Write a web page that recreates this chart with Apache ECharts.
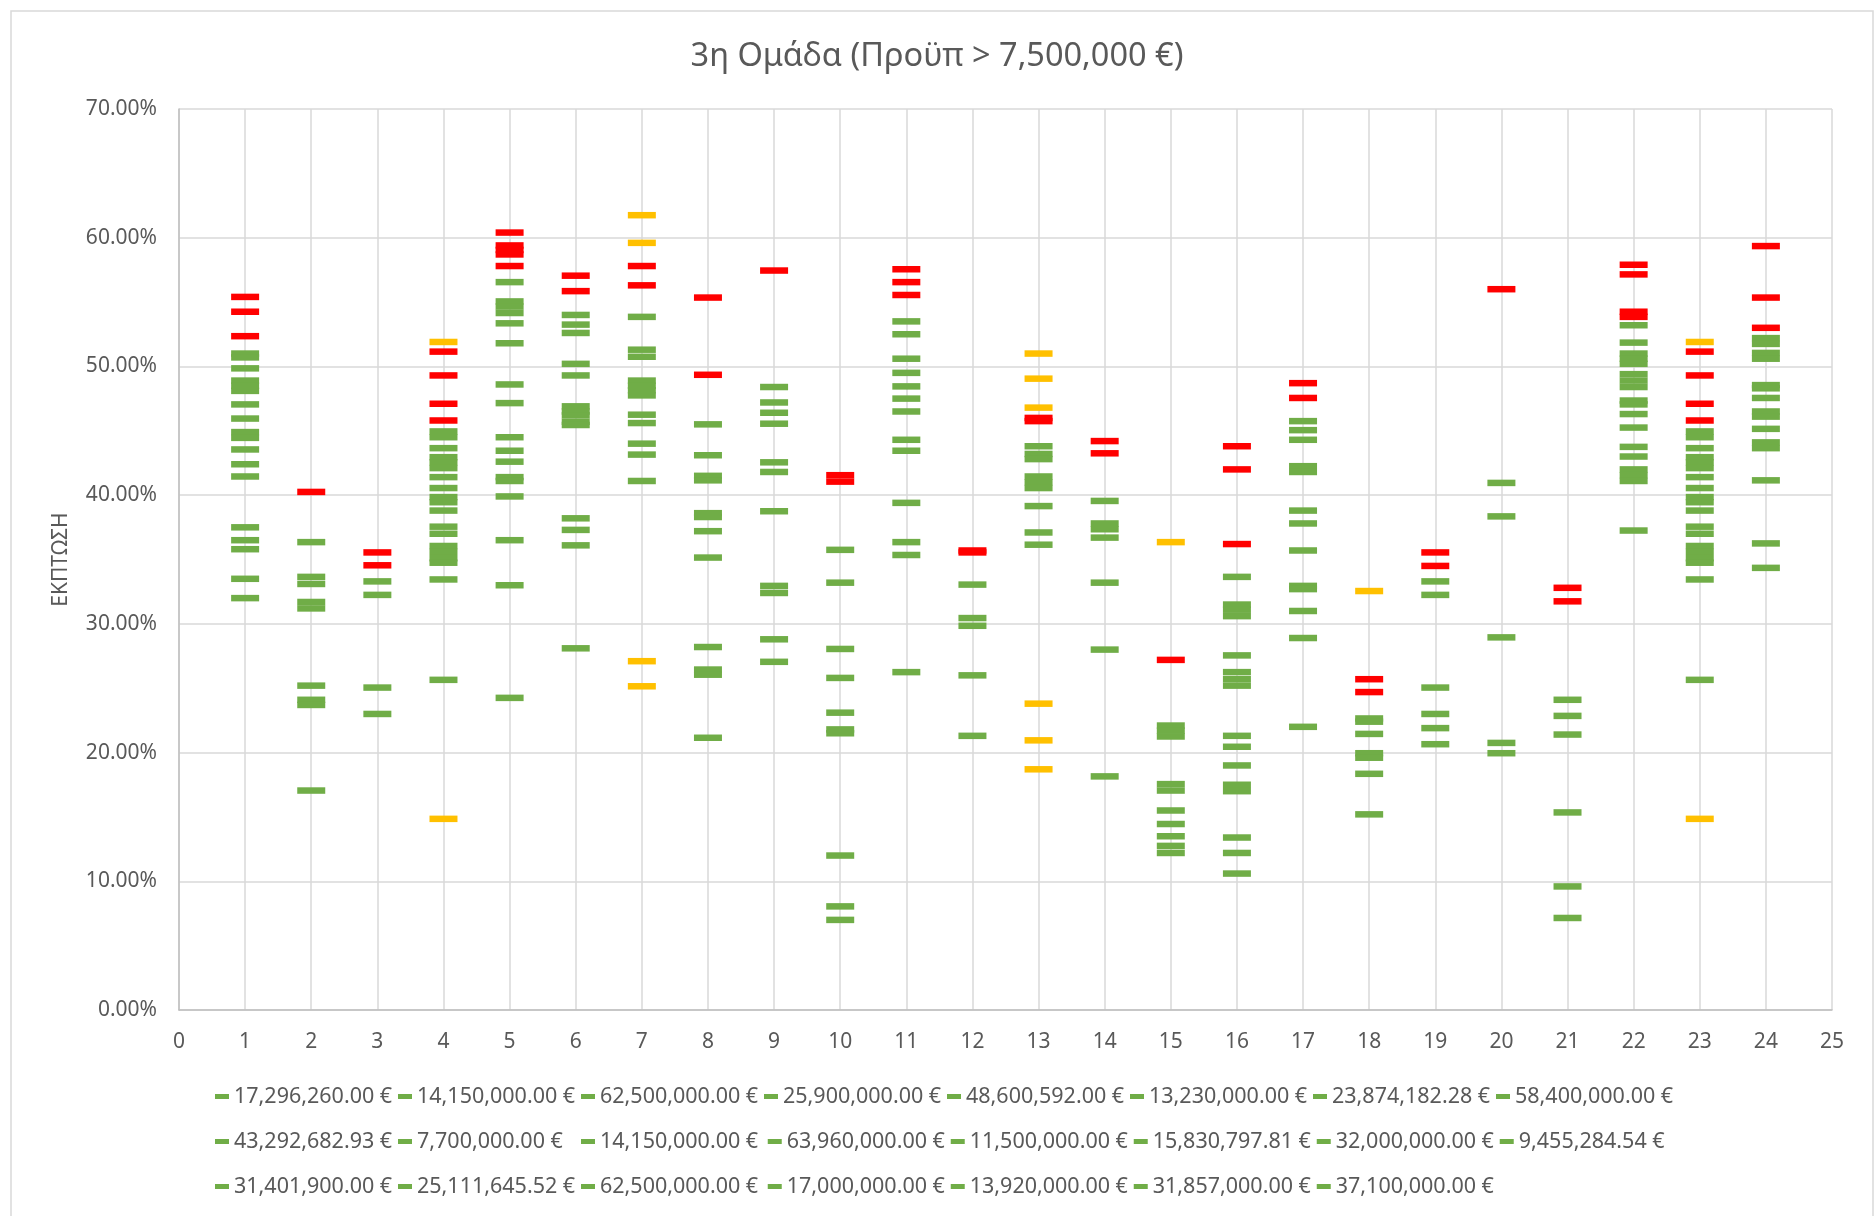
<!DOCTYPE html>
<html>
<head>
<meta charset="utf-8">
<style>
  html, body { margin: 0; padding: 0; background: #fff; }
  #chart { width: 1874px; height: 1216px; }
</style>
<script src="https://cdn.jsdelivr.net/npm/echarts@6/dist/echarts.min.js"></script>
</head>
<body>
<div id="chart"></div>
<script>
// x positions of the columns (one series per column)
const columns = [1, 2, 3, 4, 5, 6, 7, 8, 9, 10, 11, 12, 13, 14, 15, 16, 17, 18, 19, 20, 21, 22, 23, 24];

// legend labels (budgets)
const budgetNames = [
  '17,296,260.00 €', '14,150,000.00 €', '62,500,000.00 €', '25,900,000.00 €',
  '48,600,592.00 €', '13,230,000.00 €', '23,874,182.28 €', '58,400,000.00 €',
  '43,292,682.93 €', '7,700,000.00 €', '14,150,000.00 €', '63,960,000.00 €',
  '11,500,000.00 €', '15,830,797.81 €', '32,000,000.00 €', '9,455,284.54 €',
  '31,401,900.00 €', '25,111,645.52 €', '62,500,000.00 €', '17,000,000.00 €',
  '13,920,000.00 €', '31,857,000.00 €', '37,100,000.00 €'
];

// discounts (%) per column, split by how they were flagged
const greenPts = [
  [51.0, 50.7, 49.85, 48.9, 48.5, 48.1, 47.05, 45.95, 44.9, 44.45, 43.55, 42.4, 41.45, 37.5, 36.5, 35.8, 33.5, 32.0],
  [36.35, 33.65, 33.1, 31.7, 31.2, 25.2, 24.1, 23.7, 17.05],
  [33.3, 32.25, 25.05, 23.0],
  [44.95, 44.5, 43.65, 42.95, 42.55, 42.1, 41.4, 40.55, 39.85, 39.45, 38.8, 37.55, 37.0, 36.05, 35.6, 35.1, 34.75, 33.45, 25.65],
  [56.55, 55.05, 54.65, 54.15, 53.35, 51.8, 48.6, 47.15, 44.5, 43.45, 42.6, 41.4, 41.1, 39.9, 36.5, 33.0, 24.25],
  [54.0, 53.25, 52.6, 50.2, 49.3, 46.9, 46.5, 46.2, 45.7, 45.45, 38.2, 37.3, 36.1, 28.1],
  [53.85, 51.3, 50.75, 48.9, 48.5, 48.15, 47.75, 46.25, 45.6, 44.0, 43.15, 41.1],
  [45.5, 43.1, 41.5, 41.15, 38.6, 38.3, 37.2, 35.15, 28.2, 26.45, 26.05, 21.15],
  [48.4, 47.2, 46.4, 45.55, 42.55, 41.8, 38.75, 32.95, 32.4, 28.8, 27.05],
  [35.75, 33.2, 28.05, 25.8, 23.1, 21.8, 21.5, 12.0, 8.05, 7.0],
  [53.5, 52.5, 50.6, 49.5, 48.45, 47.5, 46.5, 44.3, 43.45, 39.4, 36.35, 35.35, 26.25],
  [33.05, 30.45, 29.85, 26.0, 21.3],
  [43.8, 43.2, 42.8, 41.45, 41.0, 40.55, 39.15, 37.1, 36.15],
  [39.55, 37.8, 37.35, 36.7, 33.2, 28.0, 18.15],
  [22.1, 21.7, 21.25, 17.55, 17.05, 15.5, 14.45, 13.5, 12.75, 12.2],
  [33.65, 31.5, 31.1, 30.6, 27.55, 26.25, 25.7, 25.2, 21.3, 20.45, 19.0, 17.5, 17.0, 13.4, 12.2, 10.6],
  [45.75, 45.05, 44.3, 42.25, 41.8, 38.8, 37.8, 35.7, 32.95, 32.7, 31.0, 28.9, 22.0],
  [22.65, 22.4, 21.45, 19.95, 19.6, 18.35, 15.2],
  [33.3, 32.25, 25.05, 23.0, 21.9, 20.65],
  [40.95, 38.35, 28.95, 20.75, 19.95],
  [24.1, 22.85, 21.4, 15.35, 9.6, 7.15],
  [53.2, 51.85, 51.0, 50.6, 50.2, 49.4, 48.9, 48.4, 47.35, 47.05, 46.3, 45.25, 43.75, 43.0, 42.0, 41.55, 41.1, 37.25],
  [44.95, 44.5, 43.65, 42.95, 42.55, 42.1, 41.4, 40.55, 39.85, 39.45, 38.8, 37.55, 37.0, 36.05, 35.6, 35.1, 34.75, 33.45, 25.65],
  [52.2, 51.75, 51.05, 50.6, 48.55, 48.3, 47.55, 46.5, 46.1, 45.15, 44.1, 43.65, 41.15, 36.25, 34.35]
];

const redPts = [
  [55.4, 54.25, 52.35],
  [40.25],
  [35.55, 34.55],
  [51.15, 49.3, 47.1, 45.8],
  [60.4, 59.4, 59.05, 58.7, 57.8],
  [57.05, 55.85],
  [57.8, 56.3],
  [55.35, 49.35],
  [57.45],
  [41.55, 41.05],
  [57.55, 56.55, 55.55],
  [35.7, 35.55],
  [46.0, 45.75],
  [44.2, 43.25],
  [27.2],
  [43.8, 42.0, 36.2],
  [48.7, 47.55],
  [25.7, 24.7],
  [35.55, 34.5],
  [56.0],
  [32.8, 31.75],
  [57.9, 57.15, 54.25, 53.85],
  [51.15, 49.3, 47.1, 45.8],
  [59.35, 55.35, 53.0]
];

const orangePts = [
  [], [], [], [51.9, 14.85], [], [], [61.75, 59.6, 27.1, 25.15], [], [], [], [], [],
  [51.0, 49.05, 46.8, 23.8, 20.95, 18.7], [], [36.35], [], [], [32.55], [], [], [], [],
  [51.9, 14.85], []
];

const yTicks = [0, 10, 20, 30, 40, 50, 60, 70];

// styles
const GREEN = '#70AD47';
const RED = '#FF0000';
const ORANGE = '#FFC000';
const TXT = '#595959';
const FONT = '"Noto Sans", "DejaVu Sans", sans-serif';

// legend names must be unique in echarts; pad repeated ones with a trailing space
const seen = {};
const legendNames = budgetNames.map(n => {
  let k = n;
  while (seen[k]) k += ' ';
  seen[k] = true;
  return k;
});
// column 23 repeats column 4 and has no legend entry
const seriesNames = columns.map((c, i) => {
  if (i < 22) return legendNames[i];
  if (i === 22) return 'col-23';
  return legendNames[22];
});

const mark = (x, v, color) => ({ value: [x, v], itemStyle: { color: color, opacity: 1 } });

const series = columns.map((x, i) => ({
  name: seriesNames[i],
  type: 'scatter',
  symbol: 'rect',
  symbolSize: [28, 6.5],
  itemStyle: { color: GREEN, opacity: 1 },
  emphasis: { disabled: true },
  data: [
    ...greenPts[i].map(v => mark(x, v, GREEN)),
    ...redPts[i].map(v => mark(x, v, RED)),
    ...orangePts[i].map(v => mark(x, v, ORANGE))
  ]
}));

const myChart = echarts.init(document.getElementById('chart'));

const option = {
  backgroundColor: '#fff',
  animation: false,
  textStyle: { fontFamily: FONT },
  graphic: [{
    type: 'rect',
    shape: { x: 11, y: 11, width: 1862, height: 1240 },
    style: { fill: 'none', stroke: '#d9d9d9', lineWidth: 1.5 },
    silent: true
  }],
  title: {
    text: '3η Ομάδα (Προϋπ > 7,500,000 €)',
    left: 'center',
    top: 40,
    padding: 0,
    textStyle: { color: TXT, fontSize: 32.5, fontWeight: 'normal', fontFamily: FONT }
  },
  legend: {
    data: legendNames,
    left: 215,
    top: 1076,
    width: 1480,
    padding: 0,
    itemGap: 4,
    itemWidth: 14,
    itemHeight: 5,
    icon: 'rect',
    textStyle: {
      color: TXT, fontSize: 21.5, fontFamily: FONT,
      width: 160, overflow: 'none', lineHeight: 41
    }
  },
  grid: { left: 179, top: 109, width: 1653, height: 901, containLabel: false },
  xAxis: {
    type: 'value',
    min: 0,
    max: 25,
    interval: 1,
    axisLine: { show: true, lineStyle: { color: '#bfbfbf', width: 1.5 } },
    axisTick: { show: false },
    axisLabel: { color: TXT, fontSize: 21, margin: 22, fontFamily: FONT },
    splitLine: { show: true, lineStyle: { color: '#d9d9d9', width: 1.5 } }
  },
  yAxis: {
    type: 'value',
    min: yTicks[0],
    max: yTicks[yTicks.length - 1],
    interval: 10,
    name: 'ΕΚΠΤΩΣΗ',
    nameLocation: 'middle',
    nameGap: 107,
    nameTextStyle: { color: TXT, fontSize: 21, fontFamily: FONT },
    axisLine: { show: true, lineStyle: { color: '#bfbfbf', width: 1.5 } },
    axisTick: { show: false },
    axisLabel: {
      color: TXT, fontSize: 21, margin: 22, fontFamily: FONT,
      formatter: v => v.toFixed(2) + '%'
    },
    splitLine: { show: true, lineStyle: { color: '#d9d9d9', width: 1.5 } }
  },
  series: series
};

option && myChart.setOption(option);
</script>
</body>
</html>
